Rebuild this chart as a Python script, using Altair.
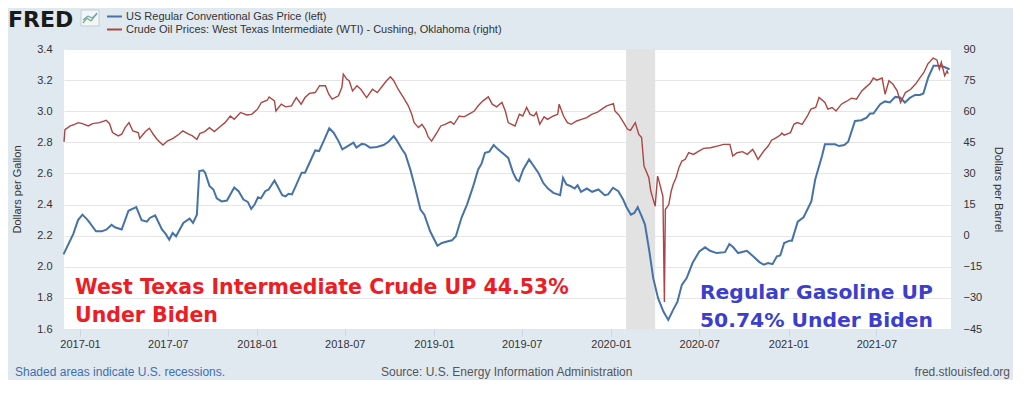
import altair as alt
import pandas as pd

# ---------------- data ----------------
gas_dates = [
    "2016-11-28", "2016-12-18", "2016-12-28", "2017-01-06", "2017-01-17", "2017-02-03", "2017-02-15",
    "2017-02-25", "2017-03-07", "2017-03-14", "2017-03-28", "2017-04-11", "2017-04-27", "2017-05-08",
    "2017-05-19", "2017-05-25", "2017-06-05", "2017-06-19", "2017-06-27", "2017-07-04", "2017-07-11",
    "2017-07-18", "2017-08-02", "2017-08-15", "2017-08-22", "2017-08-30", "2017-09-04", "2017-09-12",
    "2017-09-16", "2017-09-25", "2017-10-03", "2017-10-10", "2017-10-20", "2017-10-31", "2017-11-15",
    "2017-11-24", "2017-12-04", "2017-12-13", "2017-12-20", "2017-12-27", "2018-01-03", "2018-01-09",
    "2018-01-18", "2018-01-25", "2018-02-06", "2018-02-14", "2018-02-22", "2018-03-01", "2018-03-07",
    "2018-03-14", "2018-03-22", "2018-04-03", "2018-04-10", "2018-04-21", "2018-05-01", "2018-05-09",
    "2018-05-20", "2018-05-30", "2018-06-08", "2018-06-18", "2018-06-26", "2018-07-07", "2018-07-19",
    "2018-07-25", "2018-08-05", "2018-08-12", "2018-08-22", "2018-09-05", "2018-09-19", "2018-09-29",
    "2018-10-10", "2018-10-16", "2018-10-27", "2018-11-03", "2018-11-13", "2018-11-23", "2018-12-04",
    "2018-12-12", "2018-12-24", "2019-01-08", "2019-01-17", "2019-01-28", "2019-02-07", "2019-02-15",
    "2019-02-27", "2019-03-10", "2019-03-23", "2019-04-02", "2019-04-09", "2019-04-16", "2019-04-25",
    "2019-05-04", "2019-05-13", "2019-05-24", "2019-06-03", "2019-06-13", "2019-06-20", "2019-06-25",
    "2019-07-04", "2019-07-16", "2019-07-24", "2019-08-04", "2019-08-14", "2019-08-24", "2019-09-04",
    "2019-09-18", "2019-09-24", "2019-10-01", "2019-10-10", "2019-10-18", "2019-10-24", "2019-10-31",
    "2019-11-12", "2019-11-23", "2019-12-06", "2019-12-19", "2019-12-26", "2020-01-05", "2020-01-16",
    "2020-01-26", "2020-02-02", "2020-02-11", "2020-02-18", "2020-02-25", "2020-03-04", "2020-03-11",
    "2020-03-20", "2020-03-28", "2020-04-07", "2020-04-18", "2020-04-28", "2020-05-08", "2020-05-17",
    "2020-05-26", "2020-06-05", "2020-06-17", "2020-07-01", "2020-07-13", "2020-07-23", "2020-08-06",
    "2020-08-23", "2020-09-01", "2020-09-09", "2020-09-19", "2020-10-07", "2020-10-20", "2020-11-02",
    "2020-11-11", "2020-11-20", "2020-11-29", "2020-12-08", "2020-12-15", "2020-12-23", "2021-01-03",
    "2021-01-08", "2021-01-20", "2021-02-01", "2021-02-17", "2021-02-25", "2021-03-04", "2021-03-11",
    "2021-03-17", "2021-03-28", "2021-04-07", "2021-04-15", "2021-04-26", "2021-05-04", "2021-05-18",
    "2021-05-31", "2021-06-11", "2021-06-18", "2021-06-25", "2021-07-09", "2021-07-19", "2021-07-29",
    "2021-08-09", "2021-08-19", "2021-08-29", "2021-09-09", "2021-09-19", "2021-09-29", "2021-10-06",
    "2021-10-16", "2021-10-27", "2021-11-06", "2021-11-17", "2021-11-29",
]
gas_values = [
    2.08, 2.21, 2.30, 2.335, 2.30, 2.228, 2.228,
    2.24, 2.27, 2.254, 2.24, 2.36, 2.383, 2.30,
    2.29, 2.314, 2.33, 2.24, 2.21, 2.174, 2.217,
    2.196, 2.282, 2.31, 2.282, 2.335, 2.615, 2.62,
    2.605, 2.52, 2.497, 2.44, 2.42, 2.426, 2.51,
    2.486, 2.432, 2.417, 2.372, 2.40, 2.447, 2.44,
    2.486, 2.497, 2.555, 2.508, 2.46, 2.453, 2.469,
    2.465, 2.52, 2.605, 2.605, 2.68, 2.748, 2.744,
    2.819, 2.89, 2.862, 2.808, 2.755, 2.776, 2.798,
    2.766, 2.79, 2.787, 2.766, 2.77, 2.783, 2.804,
    2.84, 2.813, 2.755, 2.723, 2.626, 2.508, 2.368,
    2.335, 2.228, 2.135, 2.153, 2.163, 2.17, 2.196,
    2.318, 2.40, 2.52, 2.626, 2.663, 2.733, 2.74,
    2.783, 2.755, 2.727, 2.70, 2.605, 2.561, 2.55,
    2.626, 2.69, 2.654, 2.605, 2.54, 2.503, 2.475,
    2.46, 2.572, 2.529, 2.518, 2.503, 2.524, 2.482,
    2.503, 2.482, 2.497, 2.46, 2.465, 2.508, 2.486,
    2.432, 2.383, 2.335, 2.346, 2.383, 2.325, 2.271,
    2.099, 1.927, 1.798, 1.712, 1.658, 1.723, 1.776,
    1.884, 1.927, 2.024, 2.099, 2.125, 2.103, 2.088,
    2.094, 2.146, 2.125, 2.088, 2.103, 2.067, 2.03,
    2.013, 2.024, 2.017, 2.067, 2.073, 2.153, 2.168,
    2.168, 2.29, 2.318, 2.42, 2.561, 2.637, 2.712,
    2.787, 2.787, 2.787, 2.776, 2.783, 2.804, 2.937,
    2.942, 2.959, 2.985, 2.985, 3.045, 3.063, 3.056,
    3.092, 3.088, 3.056, 3.088, 3.105, 3.105, 3.114,
    3.217, 3.292, 3.292, 3.286, 3.27,
]

wti_dates = [
    "2016-11-29", "2016-12-01", "2016-12-12", "2016-12-21", "2016-12-28", "2017-01-06", "2017-01-18",
    "2017-01-27", "2017-02-10", "2017-02-24", "2017-03-03", "2017-03-09", "2017-03-21", "2017-03-28",
    "2017-04-04", "2017-04-12", "2017-04-20", "2017-05-01", "2017-05-04", "2017-05-16", "2017-05-24",
    "2017-06-01", "2017-06-09", "2017-06-21", "2017-06-30", "2017-07-12", "2017-07-24", "2017-08-01",
    "2017-08-11", "2017-08-21", "2017-08-30", "2017-09-05", "2017-09-15", "2017-09-25", "2017-10-05",
    "2017-10-16", "2017-10-27", "2017-11-07", "2017-11-15", "2017-11-28", "2017-12-11", "2017-12-21",
    "2018-01-02", "2018-01-10", "2018-01-22", "2018-01-26", "2018-02-06", "2018-02-09", "2018-02-20",
    "2018-03-01", "2018-03-13", "2018-03-23", "2018-04-02", "2018-04-10", "2018-04-19", "2018-05-01",
    "2018-05-10", "2018-05-22", "2018-05-29", "2018-06-05", "2018-06-18", "2018-06-25", "2018-06-28",
    "2018-07-05", "2018-07-10", "2018-07-17", "2018-07-26", "2018-08-03", "2018-08-15", "2018-08-27",
    "2018-09-06", "2018-09-17", "2018-09-25", "2018-10-03", "2018-10-10", "2018-10-19", "2018-10-30",
    "2018-11-09", "2018-11-16", "2018-11-21", "2018-11-30", "2018-12-07", "2018-12-14", "2018-12-20",
    "2018-12-27", "2019-01-07", "2019-01-15", "2019-01-24", "2019-02-04", "2019-02-11", "2019-02-22",
    "2019-03-04", "2019-03-13", "2019-03-25", "2019-04-02", "2019-04-12", "2019-04-23", "2019-05-01",
    "2019-05-10", "2019-05-21", "2019-05-28", "2019-06-03", "2019-06-10", "2019-06-17", "2019-06-26",
    "2019-07-03", "2019-07-11", "2019-07-18", "2019-07-26", "2019-07-31", "2019-08-07", "2019-08-16",
    "2019-08-23", "2019-09-04", "2019-09-13", "2019-09-16", "2019-09-25", "2019-10-03", "2019-10-11",
    "2019-10-22", "2019-11-01", "2019-11-12", "2019-11-22", "2019-12-03", "2019-12-13", "2019-12-23",
    "2020-01-06", "2020-01-09", "2020-01-17", "2020-01-27", "2020-02-04", "2020-02-10", "2020-02-20",
    "2020-02-27", "2020-03-04", "2020-03-09", "2020-03-12", "2020-03-19", "2020-03-23", "2020-03-27",
    "2020-04-01", "2020-04-06", "2020-04-09", "2020-04-15", "2020-04-17", "2020-04-20", "2020-04-22",
    "2020-04-29", "2020-05-04", "2020-05-08", "2020-05-14", "2020-05-20", "2020-05-26", "2020-06-02",
    "2020-06-09", "2020-06-19", "2020-06-30", "2020-07-10", "2020-07-24", "2020-08-07", "2020-08-20",
    "2020-09-02", "2020-09-08", "2020-09-17", "2020-09-28", "2020-10-08", "2020-10-19", "2020-10-23",
    "2020-10-30", "2020-11-11", "2020-11-20", "2020-11-27", "2020-12-07", "2020-12-15", "2020-12-18",
    "2020-12-23", "2021-01-05", "2021-01-12", "2021-01-19", "2021-01-29", "2021-02-09", "2021-02-16",
    "2021-02-26", "2021-03-05", "2021-03-17", "2021-03-23", "2021-04-01", "2021-04-09", "2021-04-20",
    "2021-04-30", "2021-05-11", "2021-05-21", "2021-06-01", "2021-06-09", "2021-06-18", "2021-06-25",
    "2021-07-02", "2021-07-13", "2021-07-19", "2021-07-27", "2021-08-04", "2021-08-13", "2021-08-20",
    "2021-08-30", "2021-09-10", "2021-09-20", "2021-09-27", "2021-10-07", "2021-10-15", "2021-10-26",
    "2021-11-03", "2021-11-08", "2021-11-12", "2021-11-19", "2021-11-24", "2021-11-26",
]
wti_values = [
    45.2, 51.1, 52.9, 53.7, 54.5, 54.0, 52.9,
    54.0, 54.5, 55.6, 54.0, 49.7, 48.1, 48.9,
    52.1, 54.5, 50.5, 49.7, 46.9, 50.2, 51.8,
    48.9, 46.4, 43.7, 45.6, 46.9, 48.9, 50.5,
    49.2, 48.1, 46.4, 49.2, 50.2, 52.1, 50.2,
    52.4, 54.5, 57.7, 56.1, 59.4, 58.2, 58.5,
    61.0, 64.2, 65.3, 66.9, 65.0, 60.1, 63.4,
    62.1, 62.6, 66.6, 63.4, 66.6, 68.6, 69.0,
    72.3, 72.3, 68.2, 65.8, 67.4, 71.5, 77.9,
    75.5, 74.7, 69.8, 72.3, 70.6, 66.6, 70.6,
    69.0, 72.3, 74.7, 76.6, 74.7, 70.6, 66.6,
    62.6, 58.5, 54.5, 52.1, 53.7, 51.3, 47.6,
    45.6, 49.7, 52.9, 53.7, 55.0, 53.7, 57.7,
    57.3, 58.5, 60.1, 62.6, 65.0, 66.9, 63.4,
    62.1, 64.2, 60.1, 54.5, 53.7, 52.9, 58.5,
    57.7, 61.8, 58.5, 57.7, 59.4, 53.7, 57.3,
    56.1, 57.7, 58.5, 63.4, 57.7, 54.5, 53.7,
    55.3, 56.1, 56.9, 58.5, 59.4, 61.0, 62.6,
    63.7, 60.1, 58.2, 54.5, 51.3, 50.8, 54.5,
    48.9, 47.3, 33.5, 31.9, 27.9, 21.4, 18.2,
    14.2, 28.7, 26.3, 20.7, 19.0, -32.0, 12.6,
    15.0, 21.4, 24.7, 27.9, 32.8, 36.0, 36.8,
    40.0, 39.2, 40.8, 42.1, 42.4, 43.2, 44.0,
    44.0, 38.4, 40.0, 40.5, 39.2, 41.6, 40.0,
    36.8, 40.8, 43.2, 46.0, 47.3, 48.5, 49.5,
    48.5, 49.7, 53.7, 54.5, 53.7, 57.7, 61.0,
    61.8, 66.6, 64.2, 61.0, 61.8, 60.1, 63.4,
    64.7, 66.3, 65.8, 69.8, 71.5, 73.4, 76.0,
    75.0, 76.0, 68.2, 74.7, 73.1, 69.8, 64.2,
    69.0, 70.6, 73.1, 75.5, 78.7, 82.7, 85.6,
    84.7, 80.3, 83.6, 77.1, 79.5, 78.0,
]

recession_start = ["2020-02-01"]
recession_end = ["2020-04-01"]

left_ticks = [1.6, 1.8, 2.0, 2.2, 2.4, 2.6, 2.8, 3.0, 3.2, 3.4]
right_ticks = [-45, -30, -15, 0, 15, 30, 45, 60, 75, 90]
x_tick_years_months = [(2017, 1), (2017, 7), (2018, 1), (2018, 7), (2019, 1),
                       (2019, 7), (2020, 1), (2020, 7), (2021, 1), (2021, 7)]

legend_labels = ["US Regular Conventional Gas Price (left)",
                 "Crude Oil Prices: West Texas Intermediate (WTI) - Cushing, Oklahoma (right)"]
red_note = ["West Texas Intermediate Crude UP 44.53%", "Under Biden"]
blue_note = ["Regular Gasoline UP", "50.74% Under Biden"]
footer_left = "Shaded areas indicate U.S. recessions."
footer_mid = "Source: U.S. Energy Information Administration"
footer_right = "fred.stlouisfed.org"

# ---------------- styling ----------------
W, H = 887, 280
GAS_C = "#4572a7"
WTI_C = "#aa4643"
LBL = "#333333"
FONT = "Liberation Sans"

gas_df = pd.DataFrame({"date": gas_dates, "price": gas_values})
wti_df = pd.DataFrame({"date": wti_dates, "wti": wti_values})
rec_df = pd.DataFrame({"start": recession_start, "end": recession_end})

x_scale = alt.Scale(type="utc", domain=[alt.DateTime(year=2016, month=11, date=29, utc=True),
                                        alt.DateTime(year=2021, month=12, date=2, utc=True)])
x_axis = alt.Axis(values=[alt.DateTime(year=y, month=m, date=1, utc=True) for y, m in x_tick_years_months],
                  format="%Y-%m", title=None, grid=False, domain=False,
                  ticks=True, tickColor="#ccd6eb", tickSize=7, labelPadding=2,
                  labelFont=FONT, labelFontSize=11, labelColor=LBL,
                  labelFlush=False, labelOverlap=False)

rect = alt.Chart(rec_df).mark_rect(color="#e2e2e2").encode(
    x=alt.X("start:T", scale=x_scale, axis=x_axis),
    x2="end:T",
)

gas = alt.Chart(gas_df).mark_line(color=GAS_C, strokeWidth=2).encode(
    x=alt.X("date:T", scale=x_scale, axis=x_axis),
    y=alt.Y("price:Q",
            scale=alt.Scale(domain=[1.6, 3.4], nice=False, zero=False),
            axis=alt.Axis(values=left_ticks, format=".1f", title="Dollars per Gallon",
                          grid=True, gridColor="#e6e6e6", gridWidth=1,
                          domain=False, ticks=False, tickSize=0, labelPadding=12,
                          labelFont=FONT, labelFontSize=11, labelColor=LBL, labelFlush=False,
                          titleFont=FONT, titleFontSize=11, titleFontWeight="normal",
                          titleColor=LBL, titleX=-47, titleY=H / 2, titleBaseline="middle")),
)

wti = alt.Chart(wti_df).mark_line(color=WTI_C, strokeWidth=1.4).encode(
    x=alt.X("date:T", scale=x_scale, axis=x_axis),
    y=alt.Y("wti:Q",
            scale=alt.Scale(domain=[-45, 90], nice=False, zero=False),
            axis=alt.Axis(orient="right", values=right_ticks, title="Dollars per Barrel",
                          grid=False, domain=False, ticks=False, tickSize=0, labelPadding=12,
                          labelFont=FONT, labelFontSize=11, labelColor=LBL, labelFlush=False,
                          titleFont=FONT, titleFontSize=11, titleFontWeight="normal",
                          titleColor=LBL, titleX=46, titleY=H / 2, titleBaseline="middle")),
)


def label(text, x, y, size=11, color=LBL, weight="normal", font=FONT, align="left", baseline="middle"):
    return alt.Chart(pd.DataFrame({"t": [text]})).mark_text(
        align=align, baseline=baseline, font=font, fontSize=size, fontWeight=weight, color=color
    ).encode(text="t:N", x=alt.value(x), y=alt.value(y))


def seg(x1, y1, x2, y2, color, width=2.0):
    return alt.Chart(pd.DataFrame({"k": [0]})).mark_rule(color=color, strokeWidth=width).encode(
        x=alt.value(x1), x2=alt.value(x2), y=alt.value(y1), y2=alt.value(y2))


def box(x1, y1, x2, y2, fill, stroke):
    return alt.Chart(pd.DataFrame({"k": [0]})).mark_rect(fill=fill, stroke=stroke, strokeWidth=1).encode(
        x=alt.value(x1), x2=alt.value(x2), y=alt.value(y1), y2=alt.value(y2))


texts = [
    label("FRED", -56, -22.5, size=22, color="#1a1a1a", weight="bold", font="DejaVu Sans", baseline="alphabetic"),
    # small FRED chart icon
    box(17, -39, 35, -23, "#f3f6f9", "#c3ccd6"),
    seg(19, -26, 23, -31, "#7fb069", 1.3), seg(23, -31, 27, -28, "#7fb069", 1.3), seg(27, -28, 33, -36, "#7fb069", 1.3),
    seg(19, -29, 24, -33, "#6d9fd1", 1.3), seg(24, -33, 28, -31, "#6d9fd1", 1.3), seg(28, -31, 33, -35, "#6d9fd1", 1.3),
    # legend
    seg(43, -32.5, 58, -32.5, GAS_C),
    seg(43, -19.5, 58, -19.5, WTI_C),
    label(legend_labels[0], 62, -32.5),
    label(legend_labels[1], 62, -19.5),
    # annotations
    label(red_note[0], 11, 244.5, size=20.5, color="#ee1c24", weight="bold", font="DejaVu Sans", baseline="alphabetic"),
    label(red_note[1], 11, 273, size=20.5, color="#ee1c24", weight="bold", font="DejaVu Sans", baseline="alphabetic"),
    label(blue_note[0], 636, 250, size=20.3, color="#3b3fcc", weight="bold", font="DejaVu Sans", baseline="alphabetic"),
    label(blue_note[1], 636, 277.7, size=20.3, color="#3b3fcc", weight="bold", font="DejaVu Sans", baseline="alphabetic"),
    # footer
    label(footer_left, -49, 323, size=12, color="#3f6fae"),
    label(footer_mid, 317, 323, size=12, color="#555555"),
    label(footer_right, 946, 323, size=12, color="#555555", align="right"),
]

chart = alt.layer(rect, gas, wti, *texts).resolve_scale(y="independent").properties(
    width=W, height=H,
    autosize=alt.AutoSizeParams(type="none"),
    padding={"left": 56, "top": 41, "right": 62, "bottom": 51},
    background="#e1e9f0",
).configure_view(fill="white", stroke=None)

chart.save("out.html", embed_options={"renderer": "svg", "actions": False})
